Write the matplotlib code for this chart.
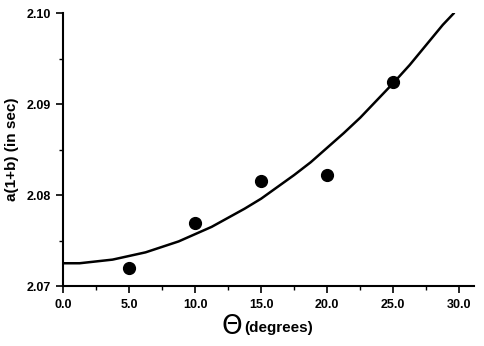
import matplotlib
matplotlib.use("Agg")
import matplotlib.pyplot as plt
from matplotlib.ticker import MultipleLocator, FormatStrFormatter

# Data
theta_pts = [5.0, 10.0, 15.0, 20.0, 25.0]
ab_pts = [2.0720, 2.0769, 2.0815, 2.0822, 2.0924]

# Fitted curve
curve_x = [0.0, 1.25, 2.5, 3.75, 5.0, 6.25, 7.5, 8.75, 10.0, 11.25, 12.5, 13.75,
           15.0, 16.25, 17.5, 18.75, 20.0, 21.25, 22.5, 23.75, 25.0, 26.25,
           27.5, 28.75, 29.6]
curve_y = [2.0725, 2.0725, 2.0727, 2.0729, 2.0733, 2.0737, 2.0743, 2.0749,
           2.0757, 2.0765, 2.0775, 2.0785, 2.0796, 2.0809, 2.0822, 2.0836,
           2.0852, 2.0868, 2.0885, 2.0904, 2.0923, 2.0943, 2.0965, 2.0987,
           2.1000]

plt.rcParams['font.family'] = ['Liberation Sans', 'DejaVu Sans']

fig = plt.figure(figsize=(4.85, 3.46), dpi=100)
ax = fig.add_axes([0.13, 0.1734, 0.847, 0.789])

ax.plot(curve_x, curve_y, color='black', lw=1.8, solid_capstyle='round',
        solid_joinstyle='round')
ax.plot(theta_pts, ab_pts, 'o', color='black', markersize=8.5)

ax.set_xlim(0, 31.1)
ax.set_ylim(2.07, 2.10)
ax.xaxis.set_major_locator(MultipleLocator(5))
ax.xaxis.set_minor_locator(MultipleLocator(2.5))
ax.yaxis.set_major_locator(MultipleLocator(0.01))
ax.yaxis.set_minor_locator(MultipleLocator(0.005))
ax.xaxis.set_major_formatter(FormatStrFormatter('%.1f'))
ax.yaxis.set_major_formatter(FormatStrFormatter('%.2f'))

for s in ['top', 'right']:
    ax.spines[s].set_visible(False)
for s in ['left', 'bottom']:
    ax.spines[s].set_linewidth(1.5)

ax.tick_params(which='major', direction='out', length=5, width=1.2,
               labelsize=9, pad=4)
ax.tick_params(which='minor', direction='out', length=3, width=1.0)
for lab in ax.get_xticklabels() + ax.get_yticklabels():
    lab.set_fontweight('bold')

ax.set_ylabel('a(1+b) (in sec)', fontsize=11, fontweight='bold')
ax.yaxis.set_label_coords(-0.108, 0.5)

fig.text(0.478, 0.054, 'Θ', fontsize=19, ha='center', va='center',
         family=['DejaVu Sans'], fontweight='normal')
fig.text(0.503, 0.053, '(degrees)', fontsize=11, fontweight='bold',
         ha='left', va='center')

fig.savefig('out.png', dpi=100)
